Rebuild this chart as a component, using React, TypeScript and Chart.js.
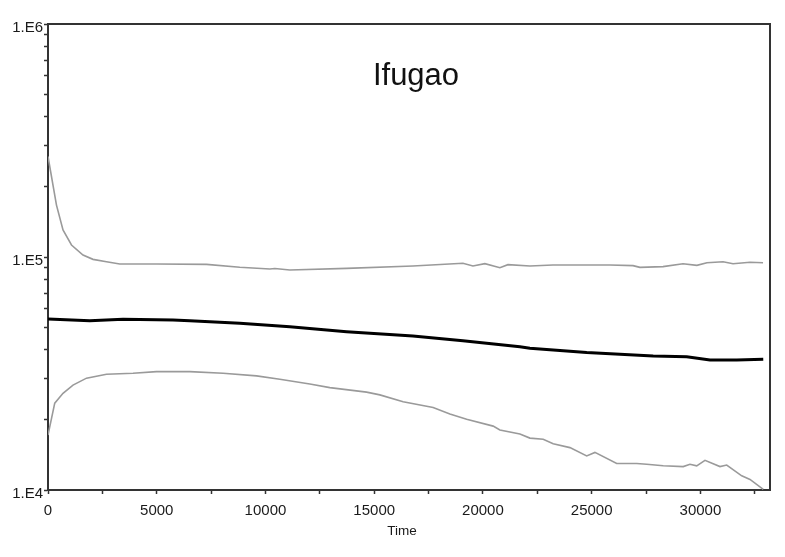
import React, { useEffect, useRef } from "react";
import { Chart, registerables } from "chart.js";

Chart.register(...registerables);

const upperTime = [0, 390, 690, 1080, 1610, 2070, 2690, 3300, 5000, 7290, 8820, 10200, 10430, 11120, 13730, 16780, 19080, 19540, 20090, 20780, 21150, 22160, 23220, 25840, 26900, 27220, 28280, 29200, 29840, 30300, 31040, 31500, 32280, 32880];
const upperValue = [270000, 167000, 130600, 112600, 102000, 97700, 95400, 93300, 93300, 93000, 90300, 88800, 89200, 88000, 89400, 91500, 94000, 91500, 93600, 90000, 92700, 91500, 92400, 92400, 91800, 90300, 90900, 93600, 92100, 94500, 95400, 93600, 94900, 94500];

const meanTime = [0, 1920, 3450, 5750, 6520, 8820, 11120, 13730, 16780, 19080, 21700, 22160, 24770, 27830, 29370, 30440, 31670, 32890];
const meanValue = [54200, 53300, 54000, 53700, 53300, 51900, 50200, 47800, 45800, 43700, 41200, 40600, 38900, 37600, 37300, 36100, 36100, 36400];

const lowerTime = [0, 310, 690, 1150, 1770, 2690, 3910, 4990, 6520, 8050, 9590, 10660, 12040, 12960, 14650, 15260, 16330, 17710, 18480, 19250, 20470, 20780, 21700, 22160, 22770, 23230, 24000, 24770, 25150, 26150, 27070, 27530, 28290, 29210, 29520, 29830, 30210, 30900, 31210, 31900, 32280, 32890];
const lowerValue = [17200, 23600, 26000, 28200, 30200, 31400, 31700, 32200, 32200, 31700, 30900, 29900, 28500, 27500, 26300, 25600, 23900, 22600, 21200, 20100, 18800, 18100, 17400, 16700, 16500, 15800, 15200, 14000, 14500, 13000, 13000, 12900, 12700, 12600, 12900, 12700, 13400, 12600, 12800, 11500, 11100, 10070];

const titleText = "Ifugao";
const xAxisTitle = "Time";
const xMin = 0;
const xMax = 33200;
const yMin = 1e4;
const yMax = 1e6;

const FONT = "'Liberation Sans', Arial, sans-serif";

const toPoints = (t: number[], v: number[]) => t.map((x, i) => ({ x, y: v[i] }));

const framePlugin = {
  id: "frameAndText",
  afterDraw(chart: any) {
    const { ctx, chartArea } = chart;
    ctx.save();
    ctx.strokeStyle = "#333";
    ctx.lineWidth = 2;
    ctx.beginPath();
    ctx.moveTo(chartArea.left, chartArea.top);
    ctx.lineTo(chartArea.right, chartArea.top);
    ctx.lineTo(chartArea.right, chartArea.bottom);
    ctx.stroke();
    ctx.fillStyle = "#111";
    ctx.textAlign = "center";
    ctx.textBaseline = "middle";
    ctx.font = `31px ${FONT}`;
    ctx.fillText(titleText, 416, 76);
    ctx.font = `13.5px ${FONT}`;
    ctx.fillStyle = "#1a1a1a";
    ctx.fillText(xAxisTitle, 402, 531);
    ctx.restore();
  },
};

export default function App() {
  const ref = useRef<HTMLCanvasElement>(null);
  useEffect(() => {
    if (!ref.current) return;
    const chart = new Chart(ref.current, {
      type: "line",
      data: {
        datasets: [
          { data: toPoints(upperTime, upperValue), borderColor: "#9a9a9a", borderWidth: 1.6, pointRadius: 0, tension: 0, fill: false },
          { data: toPoints(meanTime, meanValue), borderColor: "#000", borderWidth: 3, pointRadius: 0, tension: 0, fill: false },
          { data: toPoints(lowerTime, lowerValue), borderColor: "#9a9a9a", borderWidth: 1.6, pointRadius: 0, tension: 0, fill: false },
        ],
      },
      options: {
        responsive: false,
        animation: false,
        events: [],
        layout: { padding: { left: 0, top: 24, right: 15, bottom: 0 } },
        plugins: { legend: { display: false }, tooltip: { enabled: false } },
        scales: {
          x: {
            type: "linear",
            min: xMin,
            max: xMax,
            afterBuildTicks: (s: any) => {
              const ticks = [];
              for (let v = xMin; v <= xMax; v += 2500) ticks.push({ value: v });
              s.ticks = ticks;
            },
            ticks: {
              autoSkip: false,
              maxRotation: 0,
              padding: 8,
              color: "#1a1a1a",
              font: { family: FONT, size: 15 },
              callback: (v: any) => (Math.round(Number(v)) % 5000 === 0 ? String(Math.round(Number(v))) : ""),
            },
            grid: { drawOnChartArea: false, drawTicks: true, tickLength: 4, color: "#333", tickWidth: 1.5 },
            border: { display: true, color: "#333", width: 2 },
            afterFit: (s: any) => { s.height = 67; },
          },
          y: {
            type: "logarithmic",
            min: yMin,
            max: yMax,
            afterBuildTicks: (s: any) => {
              const ticks = [];
              for (let e = 4; e < 6; e++) for (let m = 1; m < 10; m++) ticks.push({ value: m * Math.pow(10, e) });
              ticks.push({ value: yMax });
              s.ticks = ticks;
            },
            ticks: {
              autoSkip: false,
              padding: 1,
              labelOffset: 4,
              color: "#1a1a1a",
              font: { family: FONT, size: 15 },
              callback: (v: any) => {
                const e = Math.log10(Number(v));
                return Math.abs(e - Math.round(e)) < 1e-6 ? `1.E${Math.round(e)}` : "";
              },
            },
            grid: { drawOnChartArea: false, drawTicks: true, tickLength: 4, color: "#333", tickWidth: 1.5 },
            border: { display: true, color: "#333", width: 2 },
            afterFit: (s: any) => { s.width = 48; },
          },
        },
      },
      plugins: [framePlugin],
    } as any);
    return () => chart.destroy();
  }, []);
  return (
    <div style={{ position: "fixed", left: 0, top: 0, width: 785, height: 557, background: "#fff" }}>
      <canvas ref={ref} width={785} height={557} style={{ width: 785, height: 557, display: "block" }} />
    </div>
  );
}
